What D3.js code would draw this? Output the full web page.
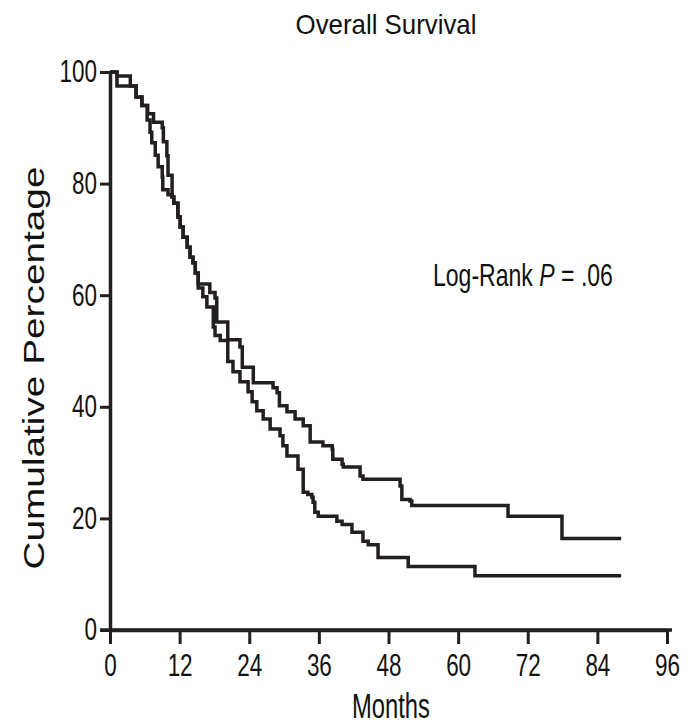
<!DOCTYPE html>
<html>
<head>
<meta charset="utf-8" />
<script src="https://d3js.org/d3.v7.min.js"></script>
<style>
  body { margin: 0; background: #fff; }
  text { font-family: "Liberation Sans Narrow", "Liberation Sans", Arial, sans-serif; fill: #111; }
  .curve { fill: none; stroke: #231f20; stroke-width: 3.5px; }
</style>
</head>
<body>
<svg id="chart" width="691" height="727"></svg>
<script>

// tick values
var monthTicks = [0, 12, 24, 36, 48, 60, 72, 84, 96];
var pctTicks = [0, 20, 40, 60, 80, 100];

// Kaplan-Meier steps: [month, survival % after the drop]
var upperArm = [
  [0,100],[1.2,99.3],[3.5,97.5],[4.5,95.5],[5.5,94],[6.5,92.5],[7.5,91],[9,90],
  [9.2,87.5],[9.8,85],[10,81.5],[10.7,77.6],[11,76.5],[11.7,74],[12.1,72.2],
  [12.6,70.4],[13.3,68.6],[13.8,66.8],[14.3,65.8],[14.7,64],[15.2,62],[17.2,60.5],
  [18.1,59.5],[18.4,55.2],[20.3,52],[22.4,50.7],[22.8,47.1],[24.7,44.3],[28.1,43.4],
  [28.8,42.5],[29.2,40.2],[30.5,39.1],[31.9,37.8],[33.3,36.6],[34.5,33.7],[36.7,33],
  [38.3,32.4],[38.4,30.6],[40,29.7],[40.2,29.2],[43.1,27.6],[43.6,27],[50,25.8],
  [50.3,23.4],[51.7,23.1],[52,22.3],[68.6,20.4],[77.9,16.4],[88.1,16.4]
];

var lowerArm = [
  [0,100],[1.2,97.5],[4.5,95.5],[5.5,94],[6.4,91.4],[6.9,89.2],[7.2,87.3],[7.8,85.1],
  [8.3,83],[9,81.2],[9.1,78.9],[10,78],[10.7,77.6],[11,76.5],[11.7,74],[12.1,72.2],
  [12.6,70.4],[13.3,68.6],[13.8,66.8],[14.3,65.8],[14.7,64],[15.2,61.3],[16,59.7],
  [16.7,57.9],[17.8,54.3],[18.1,52.8],[19,51.9],[20.3,48.1],[21.2,46.3],[22.4,44.5],
  [23.8,42.7],[24.5,40.9],[25.3,39.3],[26.4,37.8],[27.6,36],[29.3,34.8],[29.8,33],
  [30.5,31.2],[32.4,28.8],[33.3,24.7],[34.1,24.3],[34.8,23.8],[35,22.9],[35.3,21.1],
  [35.9,20.4],[39.1,19.5],[40,18.9],[41.7,17.5],[43.6,15.9],[44.5,15.3],[46.2,13],
  [51.4,11.4],[62.9,9.7],[88.1,9.7]
];

var svg = d3.select("#chart");
var ink = "#231f20";

var x = d3.scaleLinear().domain([0, 96]).range([110, 667]);
var y = d3.scaleLinear().domain([0, 100]).range([630, 72]);

// squeeze a text horizontally so it spans the given width
function squeeze(sel, px, py, width) {
  var w = sel.node().getComputedTextLength();
  sel.attr("transform", "translate(" + px + "," + py + ") scale(" + (width / w) + ",1)");
}

// y axis
var yAxis = svg.append("g")
  .attr("transform", "translate(" + x(0) + ",0)")
  .call(d3.axisLeft(y).tickValues(pctTicks).tickSize(10).tickSizeOuter(0).tickPadding(3));

// x axis
var xAxis = svg.append("g")
  .attr("transform", "translate(0," + y(0) + ")")
  .call(d3.axisBottom(x).tickValues(monthTicks).tickSize(14).tickSizeOuter(0).tickPadding(10));

[yAxis, xAxis].forEach(function(g) {
  g.select(".domain").attr("stroke", ink).attr("stroke-width", 3.5);
  g.selectAll(".tick line").attr("stroke", ink).attr("stroke-width", 3);
  g.selectAll(".tick text")
    .attr("font-size", 31)
    .attr("fill", "#111")
    .attr("font-family", null)
    .attr("lengthAdjust", "spacingAndGlyphs")
    .attr("textLength", function(d) { return String(d).length * 12.5; });
});

// x axis baseline runs under the y tick at 0
svg.append("line")
  .attr("x1", x(0) - 10).attr("x2", x(96) + 5)
  .attr("y1", y(0)).attr("y2", y(0))
  .attr("stroke", ink).attr("stroke-width", 3.5);

// curves
var line = d3.line()
  .x(function(d) { return x(d[0]); })
  .y(function(d) { return y(d[1]); })
  .curve(d3.curveStepAfter);

svg.selectAll(".curve")
  .data([upperArm, lowerArm])
  .enter().append("path")
  .attr("class", "curve")
  .attr("d", line);

// title
var title = svg.append("text")
  .attr("text-anchor", "middle")
  .attr("font-size", 27)
  .text("Overall Survival");
squeeze(title, 386, 34, 181);

// axis titles
svg.append("text")
  .attr("transform", "translate(44,368) rotate(-90)")
  .attr("text-anchor", "middle")
  .attr("font-size", 30)
  .attr("lengthAdjust", "spacingAndGlyphs")
  .attr("textLength", 403)
  .text("Cumulative Percentage");

var months = svg.append("text")
  .attr("text-anchor", "middle")
  .attr("font-size", 36)
  .text("Months");
squeeze(months, 391, 718, 78);

// annotation
var note = svg.append("text")
  .attr("font-size", 31);
note.append("tspan").text("Log-Rank ");
note.append("tspan").attr("font-style", "italic").text("P");
note.append("tspan").text(" = .06");
squeeze(note, 433, 286, 180);

</script>
</body>
</html>
